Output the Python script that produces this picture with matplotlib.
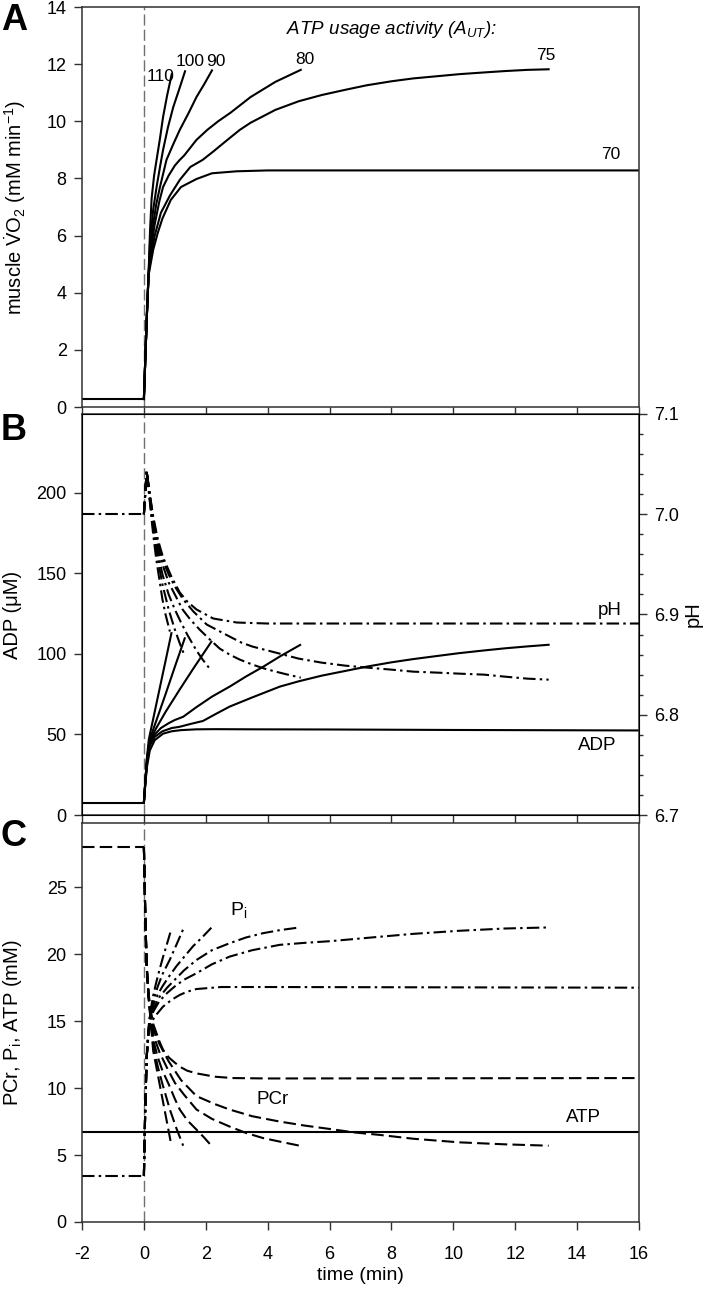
import matplotlib
matplotlib.use("Agg")
import matplotlib.pyplot as plt
from matplotlib import font_manager
from matplotlib.ticker import FormatStrFormatter

# ---- data ------------------------------------------------------------------
t_pre = [-2, 0]

# panel A: muscle VO2 (mM/min) for each ATP usage activity
vo2_pre = [0.28, 0.28]
t_vo2_110 = [0, 0.05, 0.1, 0.15, 0.2, 0.25, 0.33, 0.41, 0.52, 0.62, 0.75, 0.9]
vo2_110 = [0.28, 1.8, 3.3, 4.6, 6.2, 7.3, 8.1, 8.65, 9.4, 10.15, 10.9, 11.65]
t_vo2_100 = [0, 0.05, 0.1, 0.15, 0.2, 0.3, 0.41, 0.52, 0.62, 0.78, 0.95, 1.15, 1.33]
vo2_100 = [0.28, 1.8, 3.3, 4.6, 5.8, 6.9, 7.7, 8.4, 9.0, 9.8, 10.5, 11.15, 11.75]
t_vo2_90 = [0, 0.05, 0.1, 0.15, 0.2, 0.3, 0.4, 0.52, 0.73, 0.95, 1.16, 1.45, 1.7, 1.95, 2.2]
vo2_90 = [0.28, 1.8, 3.3, 4.6, 5.5, 6.4, 7.1, 7.7, 8.65, 9.2, 9.7, 10.3, 10.85, 11.3, 11.78]
t_vo2_80 = [0, 0.05, 0.1, 0.15, 0.2, 0.35, 0.5, 0.62, 0.8, 1.0, 1.16, 1.3, 1.7, 2.05,
            2.4, 2.8, 3.45, 4.25, 5.07]
vo2_80 = [0.28, 1.8, 3.3, 4.6, 5.3, 6.4, 7.2, 7.7, 8.1, 8.45, 8.65, 8.8, 9.35, 9.7,
          10.0, 10.3, 10.85, 11.38, 11.8]
t_vo2_75 = [0, 0.05, 0.1, 0.15, 0.2, 0.35, 0.55, 0.84, 1.16, 1.5, 1.9, 2.24, 2.7, 3.1,
            3.45, 4.25, 5.0, 5.75, 6.5, 7.2, 8.0, 8.7, 9.5, 10.2, 11.0, 11.7, 12.4, 13.08]
vo2_75 = [0.28, 1.8, 3.3, 4.6, 5.1, 6.0, 6.8, 7.4, 7.95, 8.4, 8.65, 8.94, 9.35, 9.7,
          9.95, 10.4, 10.7, 10.92, 11.1, 11.26, 11.4, 11.5, 11.58, 11.65, 11.71, 11.76, 11.8, 11.82]
t_vo2_70 = [0, 0.05, 0.1, 0.15, 0.2, 0.3, 0.45, 0.6, 0.87, 1.2, 1.7, 2.2, 3.0, 4.0, 16]
vo2_70 = [0.28, 1.8, 3.3, 4.6, 4.9, 5.5, 6.1, 6.6, 7.25, 7.7, 7.98, 8.18, 8.25, 8.28, 8.28]

# panel B: ADP (uM)
adp_pre = [7.7, 7.7]
t_adp_110 = [0, 0.05, 0.1, 0.16, 0.3, 0.5, 0.7, 0.89]
adp_110 = [7.7, 22, 36, 47, 59.6, 77.7, 95.7, 112.9]
t_adp_100 = [0, 0.05, 0.1, 0.19, 0.4, 0.7, 1.0, 1.32]
adp_100 = [7.7, 22, 35, 47, 58.5, 75, 92, 109.7]
t_adp_90 = [0, 0.05, 0.1, 0.19, 0.4, 0.7, 1.16, 1.6, 2.18]
adp_90 = [7.7, 22, 34, 46, 54, 64, 78, 91, 107.6]
t_adp_80 = [0, 0.05, 0.1, 0.19, 0.35, 0.55, 0.8, 1.0, 1.27, 1.7, 2.2, 2.77, 3.3, 3.85,
            4.4, 5.05]
adp_80 = [7.7, 21, 33, 44, 50, 54, 57, 59, 61, 67, 73.5, 79.7, 86, 92, 98.5, 105.6]
t_adp_75 = [0, 0.05, 0.1, 0.19, 0.35, 0.6, 0.9, 1.16, 1.5, 1.91, 2.3, 2.77, 3.5, 4.39,
            5.0, 5.74, 6.65, 7.22, 8.0, 8.7, 9.5, 10.19, 11.0, 11.67, 12.4, 13.08]
adp_75 = [7.7, 21, 32, 43, 48.5, 52, 54, 54.8, 56.5, 58.4, 62.5, 67.3, 73, 79.7,
          83, 86.5, 90, 92.2, 94.8, 96.8, 98.8, 100.5, 102.2, 103.5, 104.7, 105.7]
t_adp_70 = [0, 0.05, 0.1, 0.19, 0.35, 0.62, 0.9, 1.2, 1.7, 2.3, 3.5, 6, 10, 16]
adp_70 = [7.7, 20, 30, 40, 46.5, 50.5, 52, 52.7, 53.2, 53.3, 53.2, 53.1, 52.8, 52.5]

# panel B: pH (right axis)
ph_pre = [7.0, 7.0]
t_ph_110 = [0, 0.09, 0.2, 0.3, 0.4, 0.5, 0.6, 0.7, 0.84]
ph_110 = [7.0, 7.043, 7.01, 6.98, 6.955, 6.935, 6.915, 6.9, 6.883]
t_ph_100 = [0, 0.09, 0.2, 0.3, 0.45, 0.6, 0.8, 1.0, 1.15, 1.3]
ph_100 = [7.0, 7.043, 7.012, 6.985, 6.955, 6.93, 6.905, 6.885, 6.872, 6.86]
t_ph_90 = [0, 0.09, 0.2, 0.3, 0.45, 0.6, 0.8, 1.0, 1.2, 1.4, 1.7, 1.9, 2.15]
ph_90 = [7.0, 7.043, 7.014, 6.99, 6.962, 6.94, 6.92, 6.905, 6.892, 6.88, 6.864, 6.855, 6.845]
t_ph_80 = [0, 0.09, 0.2, 0.3, 0.45, 0.6, 0.8, 1.0, 1.25, 1.5, 1.8, 2.1, 2.45, 2.77,
           3.1, 3.51, 3.9, 4.26, 4.65, 5.07]
ph_80 = [7.0, 7.043, 7.016, 6.993, 6.968, 6.95, 6.932, 6.92, 6.905, 6.895, 6.885, 6.876,
         6.866, 6.86, 6.855, 6.85, 6.846, 6.843, 6.84, 6.837]
t_ph_75 = [0, 0.09, 0.2, 0.3, 0.45, 0.6, 0.8, 1.0, 1.27, 1.6, 2.03, 2.4, 2.77, 3.15, 3.51,
           4.26, 5.0, 5.74, 6.5, 7.22, 8.0, 8.7, 9.5, 10.19, 11.0, 11.67, 12.4, 13.08]
ph_75 = [7.0, 7.043, 7.018, 6.996, 6.972, 6.955, 6.94, 6.928, 6.915, 6.903, 6.89, 6.884,
         6.878, 6.872, 6.868, 6.862, 6.856, 6.852, 6.849, 6.847, 6.845, 6.843, 6.842,
         6.841, 6.84, 6.838, 6.836, 6.835]
t_ph_70 = [0, 0.09, 0.2, 0.3, 0.45, 0.62, 0.9, 1.16, 1.4, 1.7, 2.24, 3.0, 4.0, 16]
ph_70 = [7.0, 7.043, 7.018, 6.998, 6.975, 6.957, 6.937, 6.922, 6.913, 6.905, 6.896,
         6.892, 6.891, 6.891]

# panel C: PCr, Pi, ATP (mM)
pcr_pre = [28, 28]
pi_pre = [3.46, 3.46]
t_atp = [-2, 16]
atp = [6.69, 6.69]

t_pcr_110 = [0, 0.04, 0.09, 0.15, 0.2, 0.3, 0.45, 0.6, 0.75, 0.89]
pcr_110 = [28, 23.5, 19.1, 16.8, 15.5, 12.8, 11.0, 9.2, 7.4, 5.7]
t_pcr_100 = [0, 0.04, 0.09, 0.15, 0.2, 0.3, 0.45, 0.6, 0.84, 1.05, 1.27]
pcr_100 = [28, 23.5, 19.1, 16.8, 15.6, 13.2, 11.6, 10.3, 8.4, 7.0, 5.7]
t_pcr_90 = [0, 0.04, 0.09, 0.15, 0.2, 0.3, 0.45, 0.6, 0.8, 1.0, 1.16, 1.4, 1.7, 1.95, 2.18]
pcr_90 = [28, 23.5, 19.1, 16.9, 15.7, 13.6, 12.3, 11.3, 10.3, 9.2, 8.4, 7.6, 6.9, 6.3, 5.7]
t_pcr_80 = [0, 0.04, 0.09, 0.15, 0.2, 0.3, 0.5, 0.75, 1.0, 1.3, 1.7, 2.2, 2.77, 3.3,
            3.85, 4.4, 5.03]
pcr_80 = [28, 23.5, 19.1, 17, 15.8, 14.0, 12.7, 11.5, 10.4, 9.5, 8.4, 7.7, 7.13, 6.65,
          6.27, 6.0, 5.7]
t_pcr_75 = [0, 0.04, 0.09, 0.15, 0.2, 0.3, 0.5, 0.8, 1.2, 1.7, 2.3, 2.77, 3.5, 4.39, 5.2,
            6.0, 6.8, 7.6, 8.7, 10.19, 11.67, 13.08]
pcr_75 = [28, 23.5, 19.1, 17, 15.9, 14.4, 13.3, 12.0, 10.6, 9.4, 8.8, 8.4, 7.9, 7.5,
          7.2, 6.95, 6.69, 6.51, 6.22, 5.95, 5.8, 5.7]
t_pcr_70 = [0, 0.04, 0.09, 0.15, 0.2, 0.3, 0.5, 0.62, 0.8, 1.0, 1.16, 1.4, 1.7, 2.3,
            2.88, 4, 16]
pcr_70 = [28, 23.5, 19.1, 17.1, 16.1, 14.8, 13.5, 12.86, 12.3, 11.9, 11.6, 11.3, 11.1,
          10.85, 10.75, 10.72, 10.75]

t_pi_110 = [0, 0.04, 0.09, 0.15, 0.2, 0.3, 0.4, 0.5, 0.62, 0.75, 0.89]
pi_110 = [3.46, 8, 12.3, 14.5, 15.6, 16.9, 17.9, 18.8, 19.8, 20.8, 21.9]
t_pi_100 = [0, 0.04, 0.09, 0.15, 0.2, 0.3, 0.45, 0.6, 0.84, 1.05, 1.27]
pi_100 = [3.46, 8, 12.3, 14.4, 15.4, 16.5, 17.6, 18.5, 19.6, 20.7, 21.87]
t_pi_90 = [0, 0.04, 0.09, 0.15, 0.2, 0.3, 0.45, 0.6, 0.8, 1.05, 1.3, 1.59, 1.9, 2.18]
pi_90 = [3.46, 8, 12.3, 14.3, 15.2, 16.2, 17.0, 17.6, 18.3, 19.1, 19.8, 20.6, 21.3, 21.98]
t_pi_80 = [0, 0.04, 0.09, 0.15, 0.2, 0.3, 0.5, 0.75, 1.0, 1.3, 1.7, 2.2, 2.77, 3.3,
           3.85, 4.4, 5.03]
pi_80 = [3.46, 8, 12.3, 14.2, 15.0, 15.9, 16.8, 17.5, 18.1, 18.8, 19.57, 20.3, 20.82,
         21.25, 21.57, 21.8, 22.0]
t_pi_75 = [0, 0.04, 0.09, 0.15, 0.2, 0.3, 0.5, 0.75, 1.0, 1.3, 1.7, 2.2, 2.77, 3.5,
           4.39, 5.2, 6.0, 7.6, 8.7, 10.19, 11.67, 13.08]
pi_75 = [3.46, 8, 12.3, 14.1, 14.9, 15.7, 16.5, 17.1, 17.6, 18.1, 18.58, 19.25, 19.82,
         20.3, 20.7, 20.85, 20.97, 21.3, 21.52, 21.75, 21.92, 22.0]
t_pi_70 = [0, 0.04, 0.09, 0.15, 0.2, 0.35, 0.62, 0.9, 1.16, 1.4, 1.7, 2.5, 4, 16]
pi_70 = [3.46, 8, 12.3, 14.0, 14.7, 15.34, 16.09, 16.6, 16.96, 17.2, 17.4, 17.55, 17.55, 17.5]

aut_labels = ["110", "100", "90", "80", "75", "70"]
aut_label_t = [0.55, 1.48, 2.31, 5.2, 13.0, 15.1]
aut_label_y = [11.56, 12.1, 12.1, 12.18, 12.32, 8.85]

x_ticks = [-2, 0, 2, 4, 6, 8, 10, 12, 14, 16]

# ---- fonts -----------------------------------------------------------------
names = {f.name for f in font_manager.fontManager.ttflist}
NARROW = "Liberation Sans Narrow" if "Liberation Sans Narrow" in names else "Liberation Sans"
plt.rcParams["font.family"] = ["Liberation Sans", "DejaVu Sans"]
plt.rcParams["axes.unicode_minus"] = False
plt.rcParams["mathtext.fontset"] = "custom"
plt.rcParams["mathtext.rm"] = "Liberation Sans"
plt.rcParams["mathtext.it"] = NARROW + ":italic"

SPINE = "#303030"
LW = 1.5
TICK_FS = 13
DASH = (0, (6, 2.5))
DASHDOT = (0, (6, 2, 1.2, 2))
VDASH = (0, (8, 3))

fig = plt.figure(figsize=(7.2, 12.9), dpi=100)
left, width = 82 / 720, (639 - 82) / 720
axA = fig.add_axes([left, 1 - 407 / 1290, width, 400 / 1290])
axB = fig.add_axes([left, 1 - 815 / 1290, width, 401 / 1290])
axC = fig.add_axes([left, 1 - 1222 / 1290, width, 399 / 1290])
axP = axB.twinx()


def style(ax, show_x):
    for sp in ax.spines.values():
        sp.set_color(SPINE)
        sp.set_linewidth(1.1)
    ax.set_xlim(-2, 16)
    ax.set_xticks(x_ticks)
    ax.tick_params(direction="out", length=6, width=1, color=SPINE,
                   labelsize=TICK_FS, pad=5)
    ax.tick_params(axis="x", labelbottom=show_x, pad=11)
    ax.axvline(0, color="#707070", lw=1, ls=VDASH, zorder=0)
    for lab in ax.get_xticklabels() + ax.get_yticklabels():
        lab.set_fontfamily(NARROW)


# ---- panel A ---------------------------------------------------------------
axA.plot(t_pre, vo2_pre, color="black", lw=LW)
for tt, yy in [(t_vo2_110, vo2_110), (t_vo2_100, vo2_100), (t_vo2_90, vo2_90),
               (t_vo2_80, vo2_80), (t_vo2_75, vo2_75), (t_vo2_70, vo2_70)]:
    axA.plot(tt, yy, color="black", lw=LW)
axA.set_ylim(0, 14)
axA.set_yticks(range(0, 15, 2))
style(axA, False)
axA.set_ylabel(r"muscle $\dot{\rm V}$O$_2$ (mM min$^{-1}$)", fontsize=14.5)
axA.yaxis.set_label_coords(-0.097, 0.5)
for lab, tx, ty in zip(aut_labels, aut_label_t, aut_label_y):
    axA.text(tx, ty, lab, fontsize=12.5, family=NARROW, ha="center", va="center")
axA.text(8.0, 13.2, r"ATP usage activity ($A_{UT}$):", fontsize=13.5, family=NARROW,
         style="italic", ha="center", va="center")

# ---- panel B ---------------------------------------------------------------
axB.plot(t_pre, adp_pre, color="black", lw=LW)
for tt, yy in [(t_adp_110, adp_110), (t_adp_100, adp_100), (t_adp_90, adp_90),
               (t_adp_80, adp_80), (t_adp_75, adp_75), (t_adp_70, adp_70)]:
    axB.plot(tt, yy, color="black", lw=LW)
axB.set_ylim(0, 249)
axB.set_yticks([0, 50, 100, 150, 200])
style(axB, False)
axB.set_ylabel("ADP (\u03bcM)", fontsize=14.5)
axB.yaxis.set_label_coords(-0.107, 0.5)

axP.plot(t_pre, ph_pre, color="black", lw=LW, ls=DASHDOT)
for tt, yy in [(t_ph_110, ph_110), (t_ph_100, ph_100), (t_ph_90, ph_90),
               (t_ph_80, ph_80), (t_ph_75, ph_75), (t_ph_70, ph_70)]:
    axP.plot(tt, yy, color="black", lw=LW, ls=DASHDOT)
axP.set_ylim(6.7, 7.1)
axP.set_yticks([6.7, 6.8, 6.9, 7.0, 7.1])
axP.set_yticks([6.72, 6.74, 6.76, 6.78, 6.82, 6.84, 6.86, 6.88, 6.92, 6.94, 6.96,
                6.98, 7.02, 7.04, 7.06, 7.08], minor=True)
axP.yaxis.set_major_formatter(FormatStrFormatter("%.1f"))
axP.tick_params(axis="y", which="major", direction="out", length=6, width=1,
                color=SPINE, labelsize=TICK_FS, pad=5)
axP.tick_params(axis="y", which="minor", direction="out", length=3, width=1, color=SPINE)
for lab in axP.get_yticklabels():
    lab.set_fontfamily(NARROW)
axP.set_ylabel("pH", fontsize=14.5, labelpad=3)
axB.text(15.06, 127, "pH", fontsize=13.5, family=NARROW, ha="center", va="center")
axB.text(14.65, 43, "ADP", fontsize=13.5, family=NARROW, ha="center", va="center")

# ---- panel C ---------------------------------------------------------------
axC.plot(t_atp, atp, color="black", lw=LW)
axC.plot(t_pre, pcr_pre, color="black", lw=LW, ls=DASH)
axC.plot(t_pre, pi_pre, color="black", lw=LW, ls=DASHDOT)
for tt, yy in [(t_pcr_110, pcr_110), (t_pcr_100, pcr_100), (t_pcr_90, pcr_90),
               (t_pcr_80, pcr_80), (t_pcr_75, pcr_75), (t_pcr_70, pcr_70)]:
    axC.plot(tt, yy, color="black", lw=LW, ls=DASH)
for tt, yy in [(t_pi_110, pi_110), (t_pi_100, pi_100), (t_pi_90, pi_90),
               (t_pi_80, pi_80), (t_pi_75, pi_75), (t_pi_70, pi_70)]:
    axC.plot(tt, yy, color="black", lw=LW, ls=DASHDOT)
axC.set_ylim(0, 29.8)
axC.set_yticks([0, 5, 10, 15, 20, 25])
style(axC, True)
axC.set_ylabel(r"PCr, P$_{\rm i}$, ATP (mM)", fontsize=14.5)
axC.yaxis.set_label_coords(-0.105, 0.5)
axC.set_xlabel("time (min)", fontsize=14, family=NARROW, labelpad=3)
axC.text(3.05, 23.3, r"P$_{\rm i}$", fontsize=14, family=NARROW, ha="center", va="center")
axC.text(4.16, 9.12, "PCr", fontsize=13.5, family=NARROW, ha="center", va="center")
axC.text(14.19, 7.84, "ATP", fontsize=13.5, family=NARROW, ha="center", va="center")

# panel letters
for letter, ypx in [("A", 20), ("B", 431), ("C", 836)]:
    fig.text(14 / 720, 1 - ypx / 1290, letter, fontsize=26, fontweight="bold",
             ha="center", va="center")

fig.savefig("out.png", dpi=100)
